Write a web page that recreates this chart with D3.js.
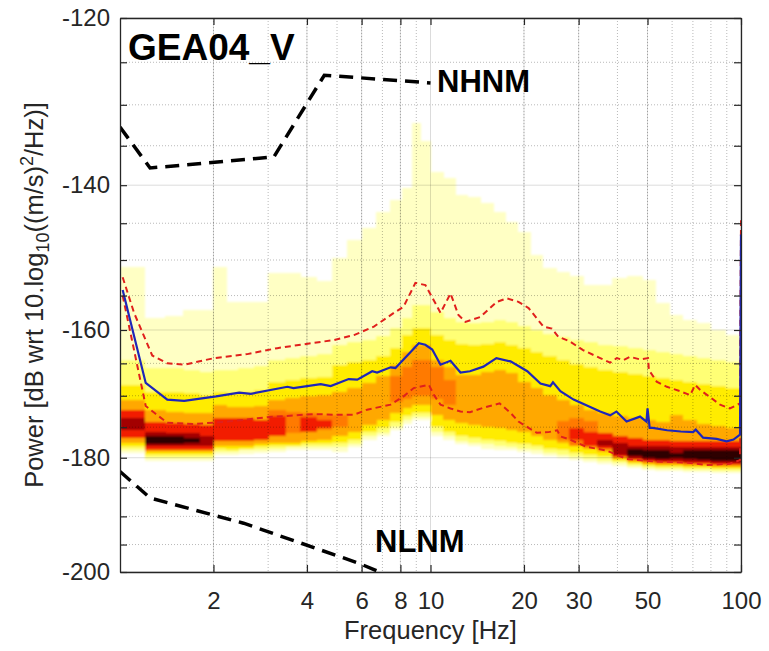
<!DOCTYPE html>
<html>
<head>
<meta charset="utf-8">
<script src="https://cdn.jsdelivr.net/npm/d3@7"></script>
<style>
body{margin:0;background:#fff;}
svg{font-family:"Liberation Sans",Arial,Helvetica,sans-serif;}
</style>
</head>
<body>
<script>
// ---- data ----
const xTicks=[2,4,6,8,10,20,30,50,100];
const xMinor=[2,3,4,5,6,7,8,9,20,30,40,50,60,70,80,90];
const yTicks=[-120,-140,-160,-180,-200];
const yMinor=[-125,-130,-135,-145,-150,-155,-165,-170,-175,-185,-190,-195];

// heatmap columns (Hz) and nested colour bands (dB) per column
const binEdges=[1.0,1.2,1.4,1.6,1.8,2.0,2.2,2.4,2.7,3.0,3.4,3.8,4.3,4.8,5.4,6.0,6.7,7.4,8.1,8.7,9.3,10,11,12,13.2,14.5,16,17.5,19,21,23,25.5,28,31,34.5,38.5,43,48,53,59,65,72,80,89,100];
const paleTop=[-151,-158.3,-158,-157.1,-157.1,-151,-155.9,-155.9,-155.9,-151.8,-151.8,-152.4,-153,-149.7,-147.2,-145.7,-143.5,-141.9,-140.3,-132.2,-134.4,-138.3,-139.1,-141.3,-141.5,-142.3,-143.5,-144.9,-146.2,-149.3,-151.1,-151.7,-152.2,-153.5,-153.5,-152.5,-152.2,-152.8,-156,-157.8,-158.5,-159,-160,-160.8];
const paleBot=[-179.2,-180.5,-180.5,-180.5,-180.5,-179.5,-179.5,-179.3,-179.2,-179,-178.8,-178.7,-178.7,-179,-178.3,-177,-176.4,-175.4,-174.5,-173.8,-173.8,-176.4,-177,-177.8,-178.1,-178.5,-178.7,-178.8,-179,-179.3,-179.7,-180,-180.4,-180.7,-181,-181.4,-181.7,-182,-182.2,-182.2,-182.4,-182.4,-182.5,-182.5];
const lightTop=[-164.5,-165.7,-165.7,-166,-166.3,-166,-166,-165.7,-165.4,-164.5,-164.2,-163.9,-163.6,-162.3,-161.8,-161.5,-160.9,-159.7,-158.3,-156.3,-156.3,-157.4,-158.3,-158.8,-159,-158.8,-158.5,-158.8,-159.4,-160,-160.6,-161.1,-161.5,-161.8,-162.3,-162.4,-162.7,-163,-163.3,-163.6,-163.9,-164.2,-164.5,-164.8];
const lightBot=[-178.8,-180,-180,-180,-180,-179,-179,-178.8,-178.7,-178.5,-178.3,-178.3,-178.3,-178.3,-177.8,-176.5,-175.9,-174.9,-173.8,-173.3,-173.3,-175.7,-176.5,-177.2,-177.5,-177.8,-178.1,-178.3,-178.5,-178.8,-179.2,-179.5,-179.8,-180.2,-180.5,-180.9,-181.4,-181.7,-181.8,-181.8,-182,-182,-182.2,-182.2];
const yellowTop=[-168.3,-169.4,-169.4,-169.6,-169.9,-169.4,-169.6,-169.4,-169.1,-167.8,-167.5,-167.2,-167.1,-165.3,-164.8,-164.5,-163.9,-162.7,-160.8,-159.7,-159.7,-160.8,-161.5,-162.1,-162.3,-162.1,-161.8,-162.3,-162.7,-163.3,-163.9,-164.5,-165.1,-165.6,-166,-166.3,-166.6,-166.9,-167.2,-167.5,-167.8,-168.1,-168.5,-168.8];
const yellowBot=[-178.3,-179.5,-179.5,-179.5,-179.5,-178.5,-178.7,-178.5,-178.3,-178.1,-178,-177.8,-177.8,-177.6,-177,-175.7,-175.1,-174.1,-173.2,-172.7,-172.7,-174.9,-175.7,-176.4,-176.7,-177,-177.3,-177.5,-177.8,-178.1,-178.5,-178.8,-179.2,-179.5,-179.8,-180.5,-181,-181.4,-181.5,-181.5,-181.7,-181.7,-181.8,-181.8];
const orangeTop=[-170.6,-172.2,-172.5,-172.7,-172.7,-171.4,-171.7,-171.7,-171.6,-170.6,-170.3,-170,-169.9,-169.4,-168.8,-168,-166.9,-165.3,-163.3,-162.3,-162.3,-164.5,-165.5,-166.8,-166.8,-166.3,-166,-166.5,-167.8,-168.8,-169.9,-170.6,-171.4,-172.2,-172.7,-173.2,-173.5,-173.8,-174.1,-173,-173.8,-174.5,-174.8,-175.1];
const orangeBot=[-177.6,-179,-179,-179,-179,-178,-178.1,-178,-177.8,-177.6,-177.5,-177.3,-177,-176.5,-175.7,-174.6,-173.8,-172.8,-171.9,-171.4,-171.4,-173,-173.8,-174.3,-174.6,-174.9,-175.1,-175.4,-175.7,-176.4,-177,-177.5,-178,-178.5,-179,-180.2,-180.7,-181,-181.2,-181.2,-181.4,-181.4,-181.5,-181.5];
const deepTop=[null,null,null,null,null,null,null,null,null,-172.2,-172.5,-172.7,-173,-173,
  null,null,null,-167,-165.5,-164.5,-164.5,-165.5,-167.5,
  null,null,null,null,null,null,null,null,-174,-173.5,-174,
  null,null,null,null,null,null,null,null,null,null];
const deepBot=[null,null,null,null,null,null,null,null,null,-176.4,-176,-175.7,-175.4,-175,
  null,null,null,-171,-170.5,-170,-170,-170.5,-171.5,
  null,null,null,null,null,null,null,null,-177,-178,-178.3,
  null,null,null,null,null,null,null,null,null,null];
const redTop=[-172.2,-174.1,-174.3,-174.5,-174.6,-173.5,-173.5,-173.6,-173.8,-173.2,null,-173.3,-173.8,
  null,null,null,null,null,null,null,null,null,null,null,null,null,null,null,null,null,null,null,
  -175.1,-175.7,-176,-176.5,-176.8,-177,-177,-177.2,-177.2,-177.2,-177.3,-177.3];
const redBot=[-176.7,-178.7,-178.7,-178.7,-178.7,-177.3,-177.3,-177.2,-177,-176.4,null,-175.8,-175.2,
  null,null,null,null,null,null,null,null,null,null,null,null,null,null,null,null,null,null,null,
  -177,-178,-178.5,-179.8,-180.4,-180.7,-180.9,-180.9,-181,-181,-181.2,-181.2];
const darkTop=[-173.5,-175.7,-175.9,-176,-176.4,
  null,null,null,null,null,null,null,null,null,null,null,null,null,null,null,null,null,null,null,null,null,null,null,null,null,null,null,null,null,
  -177,-177.6,-178,-178.1,-178.1,-178.3,-178.3,-178.3,-178.3,-178.3];
const darkBot=[-175.4,-178.1,-178.1,-178.1,-178,
  null,null,null,null,null,null,null,null,null,null,null,null,null,null,null,null,null,null,null,null,null,null,null,null,null,null,null,null,null,
  -178,-179.5,-180,-180.4,-180.5,-180.5,-180.7,-180.7,-180.9,-180.9];
const blackTop=[null,-176.5,-176.5,-176.7,
  null,null,null,null,null,null,null,null,null,null,null,null,null,null,null,null,null,null,null,null,null,null,null,null,null,null,null,null,null,null,null,null,
  -178.5,-178.7,-178.7,-179.2,-178.8,-178.7,-178.7,-178.7];
const blackBot=[null,-177.8,-177.8,-177.6,
  null,null,null,null,null,null,null,null,null,null,null,null,null,null,null,null,null,null,null,null,null,null,null,null,null,null,null,null,null,null,null,null,
  -179.7,-180,-180.2,-180,-180.2,-180.4,-180.5,-180.5];

// median and percentile curves
const medFreq=[1.02,1.21,1.42,1.61,2.04,2.42,2.64,3.46,3.62,4.43,4.77,5.45,5.81,6.49,6.73,7.44,7.71,8.66,9.17,9.62,10.13,10.77,11.6,12.49,13.4,14.8,16.3,18.1,20.5,22.6,24.3,24.8,26.2,28.9,35.2,37.9,39.7,42.8,47.3,49.6,50.0,50.8,52.0,57.8,64,70.1,71.5,75.5,83.5,89.9,94.6,99.3,100];
const medPow=[-154.2,-168.0,-170.6,-170.8,-170.1,-169.5,-169.7,-168.6,-168.8,-168.2,-168.5,-167.4,-167.5,-166.2,-166.4,-165.6,-165.7,-163.2,-161.95,-162.2,-162.9,-165.2,-164.6,-166.4,-166.2,-165.5,-164.2,-164.7,-166.2,-168.1,-168.5,-167.9,-169.3,-170.6,-172.5,-173.1,-172.5,-174.1,-173.3,-174.1,-172.0,-175.1,-175.1,-175.5,-175.7,-175.8,-175.4,-176.7,-176.9,-177.3,-177.0,-176.2,-146.5];
const upFreq=[1.02,1.11,1.27,1.42,1.61,2.01,2.57,3.21,4.21,4.88,5.67,6.57,7.62,8.19,8.94,9.63,10.37,10.77,11.6,12.3,12.95,14.46,16.35,17.6,19.2,20.7,23.1,24.6,25.8,28.1,31.0,35.2,37.9,39.8,41.8,43.9,47.3,50.2,50.5,53.5,57.7,63.7,68.6,71.2,73.9,80.4,85.6,92.1,99.3,100];
const upPow=[-152.4,-157.5,-163.8,-165.0,-165.2,-164.2,-163.6,-162.7,-161.9,-161.5,-160.75,-159.5,-157.5,-156.6,-153.2,-153.5,-156.1,-157.5,-154.7,-157.8,-158.8,-158.1,-155.9,-155.4,-155.9,-156.8,-159.5,-159.8,-161.0,-161.7,-163.0,-164.2,-164.9,-164.2,-164.5,-164.0,-164.4,-164.2,-166.0,-167.8,-168.6,-169.3,-169.9,-168.3,-169.1,-170.4,-171.4,-172.0,-171.2,-144.6];
const loFreq=[1.02,1.21,1.29,1.42,1.73,2.22,2.98,4.21,4.88,5.67,6.25,7.44,8.19,8.83,9.88,10.26,10.77,11.6,12.49,13.4,14.8,16.7,18.1,19.2,20.7,22.0,24.0,25.6,26.2,28.1,31.8,36.9,42.8,52.0,66.6,77.5,92.1,99.3,100];
const loPow=[-155.0,-171.6,-172.7,-174.3,-174.5,-174.1,-173.4,-172.9,-173.0,-173.0,-172.2,-171.4,-170.1,-168.8,-168.3,-169.9,-171.4,-172.0,-172.5,-172.6,-171.9,-171.2,-172.7,-174.1,-175.1,-175.9,-175.8,-175.5,-176.5,-177.0,-178.2,-178.8,-180.2,-180.6,-180.8,-181.2,-181.0,-180.4,-150];

// Peterson noise models
const nhnmFreq=[1.0,1.25,3.13,4.55,10];
const nhnmPow=[-132.7,-137.8,-136.4,-126.5,-127.4];
const nlnmFreq=[1.0,1.25,2.5,5.88,10];
const nlnmPow=[-182.3,-186.8,-191.2,-198.4,-204];

// ---- chart ----
const w=769, h=651;
const plot={left:120,right:741,top:18,bottom:572};

const svg=d3.select("body").append("svg").attr("width",w).attr("height",h);

const xScale=d3.scaleLog().domain([1,100]).range([plot.left,plot.right]);
const yScale=d3.scaleLog().domain([-120,-200]).range([plot.top,plot.bottom]);

const defs=svg.append("defs");
defs.append("clipPath").attr("id","clip")
  .append("rect")
  .attr("x",plot.left).attr("y",plot.top)
  .attr("width",plot.right-plot.left).attr("height",plot.bottom-plot.top);
defs.append("filter").attr("id","soft")
  .attr("x","-2%").attr("y","-2%").attr("width","104%").attr("height","104%")
  .append("feGaussianBlur").attr("stdDeviation","0.9 1.1");

const levels=[
  {top:paleTop,bot:paleBot,color:"#FFFFC4"},
  {top:lightTop,bot:lightBot,color:"#FFFF74"},
  {top:yellowTop,bot:yellowBot,color:"#FFEC00"},
  {top:orangeTop,bot:orangeBot,color:"#FFA800"},
  {top:deepTop,bot:deepBot,color:"#FF7A00"},
  {top:redTop,bot:redBot,color:"#F21C00"},
  {top:darkTop,bot:darkBot,color:"#A30000"},
  {top:blackTop,bot:blackBot,color:"#2E0000"}
];

const heat=svg.append("g").attr("clip-path","url(#clip)")
  .append("g").attr("filter","url(#soft)");
const cols=d3.range(binEdges.length-1);
levels.forEach(lv=>{
  heat.append("g").attr("shape-rendering","crispEdges").selectAll("rect")
    .data(cols.filter(i=>lv.top[i]!=null))
    .join("rect")
    .attr("x",i=>xScale(binEdges[i]))
    .attr("width",i=>xScale(binEdges[i+1])-xScale(binEdges[i])+0.5)
    .attr("y",i=>yScale(lv.top[i]))
    .attr("height",i=>yScale(lv.bot[i])-yScale(lv.top[i]))
    .attr("fill",lv.color);
});

// grid
const grid=svg.append("g");
grid.selectAll(".xmin").data(xMinor).join("line")
  .attr("x1",d=>xScale(d)).attr("x2",d=>xScale(d))
  .attr("y1",plot.top).attr("y2",plot.bottom)
  .attr("stroke","#000").attr("stroke-opacity",0.28).attr("stroke-dasharray","1,2");
grid.selectAll(".ymin").data(yMinor).join("line")
  .attr("x1",plot.left).attr("x2",plot.right)
  .attr("y1",d=>yScale(d)).attr("y2",d=>yScale(d))
  .attr("stroke","#000").attr("stroke-opacity",0.28).attr("stroke-dasharray","1,2");
grid.selectAll(".xmaj").data(xTicks).join("line")
  .attr("x1",d=>xScale(d)).attr("x2",d=>xScale(d))
  .attr("y1",plot.top).attr("y2",plot.bottom)
  .attr("stroke","#000").attr("stroke-opacity",0.14);
grid.selectAll(".ymaj").data(yTicks).join("line")
  .attr("x1",plot.left).attr("x2",plot.right)
  .attr("y1",d=>yScale(d)).attr("y2",d=>yScale(d))
  .attr("stroke","#000").attr("stroke-opacity",0.14);

// curves
const line=d3.line().x(d=>xScale(d[0])).y(d=>yScale(d[1]));
const curves=svg.append("g").attr("clip-path","url(#clip)").attr("fill","none");
curves.append("path").datum(d3.zip(nhnmFreq,nhnmPow)).attr("d",line)
  .attr("stroke","#000").attr("stroke-width",3.5).attr("stroke-dasharray","14,8");
curves.append("path").datum(d3.zip(nlnmFreq,nlnmPow)).attr("d",line)
  .attr("stroke","#000").attr("stroke-width",3.5).attr("stroke-dasharray","14,8");
curves.append("path").datum(d3.zip(upFreq,upPow)).attr("d",line)
  .attr("stroke","#E0201C").attr("stroke-width",2).attr("stroke-dasharray","6,4");
curves.append("path").datum(d3.zip(loFreq,loPow)).attr("d",line)
  .attr("stroke","#E0201C").attr("stroke-width",2).attr("stroke-dasharray","6,4");
curves.append("path").datum(d3.zip(medFreq,medPow)).attr("d",line)
  .attr("stroke","#1E26B8").attr("stroke-width",2.2);

// axes
const axisColor="#262626";
const yFmt=d=>yTicks.includes(d)?d:"";
const yAll=yTicks.concat(yMinor);
function styleAxis(g){
  g.select(".domain").attr("stroke",axisColor).attr("stroke-width",1.3);
  g.selectAll(".tick line").attr("stroke",axisColor).attr("stroke-width",1.2);
  g.selectAll(".tick text").attr("fill",axisColor).style("font-size","24px");
}
svg.append("g").attr("transform",`translate(0,${plot.bottom})`)
  .call(d3.axisBottom(xScale).tickValues(xTicks).tickFormat(d3.format("d")).tickSize(-7).tickSizeOuter(0).tickPadding(20))
  .call(styleAxis);
svg.append("g").attr("transform",`translate(0,${plot.top})`)
  .call(d3.axisTop(xScale).tickValues(xTicks).tickFormat("").tickSize(-7).tickSizeOuter(0))
  .call(styleAxis);
svg.append("g").attr("transform",`translate(${plot.left},0)`)
  .call(d3.axisLeft(yScale).tickValues(yAll).tickFormat(yFmt).tickSize(-7).tickSizeOuter(0).tickPadding(10))
  .call(styleAxis);
svg.append("g").attr("transform",`translate(${plot.right},0)`)
  .call(d3.axisRight(yScale).tickValues(yAll).tickFormat("").tickSize(-7).tickSizeOuter(0))
  .call(styleAxis);
svg.selectAll("g text").attr("font-family",null);

// labels
svg.append("text")
  .attr("x",(plot.left+plot.right)/2).attr("y",639)
  .attr("text-anchor","middle").attr("fill",axisColor)
  .style("font-size","25.5px")
  .text("Frequency [Hz]");

const ylab=svg.append("text")
  .attr("transform",`translate(43,${(plot.top+plot.bottom)/2}) rotate(-90)`)
  .attr("text-anchor","middle").attr("fill",axisColor)
  .style("font-size","25.5px");
ylab.append("tspan").text("Power [dB wrt 10.log");
ylab.append("tspan").attr("dy",6).style("font-size","18px").text("10");
ylab.append("tspan").attr("dy",-6).text("((m/s)");
ylab.append("tspan").attr("dy",-10).style("font-size","18px").text("2");
ylab.append("tspan").attr("dy",10).text("/Hz)]");

svg.append("text").attr("x",128).attr("y",60)
  .style("font-size","37px").style("font-weight","bold").attr("fill","#000")
  .text("GEA04_V");
svg.append("text").attr("x",437).attr("y",92)
  .style("font-size","31px").style("font-weight","bold").attr("fill","#000")
  .text("NHNM");
svg.append("text").attr("x",375).attr("y",552)
  .style("font-size","31px").style("font-weight","bold").attr("fill","#000")
  .text("NLNM");
</script>
</body>
</html>
